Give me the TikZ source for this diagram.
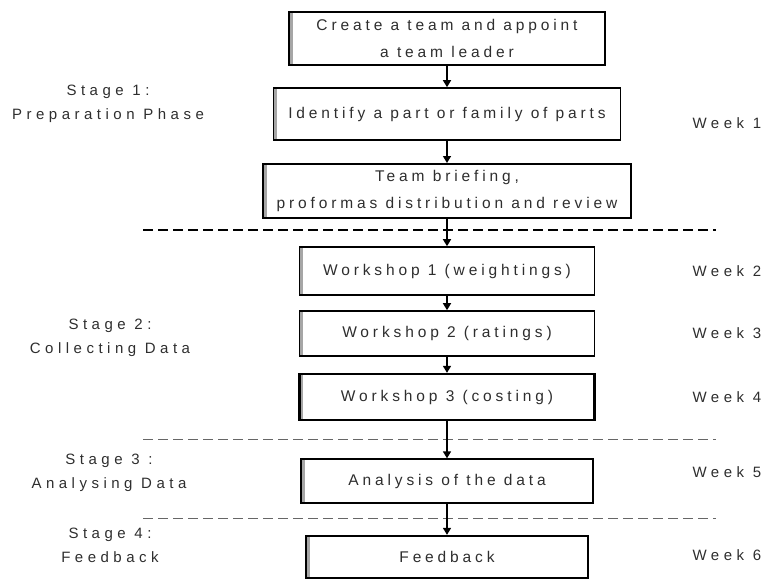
\documentclass[tikz,border=0pt]{standalone}
\usepackage{fontspec}
\setmainfont{Liberation Sans}[LetterSpace=25]
\usetikzlibrary{arrows.meta}
\definecolor{ink}{HTML}{2E2E2E}
\tikzset{
  stepbox/.style={draw=black, line width=1.6pt, fill=white, inner sep=0pt,
    align=center, text=ink, font={\fontsize{15.5}{27}\selectfont},
    path picture={\fill[gray!70] (path picture bounding box.south west)
      rectangle ([xshift=3.5pt]path picture bounding box.north west);}},
  heavybox/.style={stepbox, line width=2.3pt},
  flow/.style={line width=1.4pt, -{Triangle[width=8pt,length=7pt]}},
  divider/.style={dashed, dash pattern=on 10pt off 5pt},
  stagelabel/.style={align=center, text=ink, font={\fontsize{15}{24}\selectfont\addfontfeature{LetterSpace=30}}},
  weeklabel/.style={anchor=west, text=ink, font={\fontsize{15}{18}\selectfont\addfontfeature{LetterSpace=30}}}
}
\begin{document}
\begin{tikzpicture}[x=1pt, y=-1pt]
\useasboundingbox (0,0) rectangle (768,581);

% process steps
\node[stepbox, minimum width=316pt, minimum height=53pt] (b1) at (447,38.5)
  {Create a team and appoint\\a team leader};
\node[stepbox, minimum width=347pt, minimum height=52pt] (b2) at (447,114)
  {Identify a part or family of parts};
\node[stepbox, line width=2pt, minimum width=368pt, minimum height=54pt] (b3) at (447,191)
  {Team briefing,\\proformas distribution and review};
\node[stepbox, minimum width=295pt, minimum height=48pt] (b4) at (447,271)
  {Workshop 1 (weightings)};
\node[stepbox, minimum width=295pt, minimum height=45pt] (b5) at (447,333.5)
  {Workshop 2 (ratings)};
\node[heavybox, minimum width=295pt, minimum height=46pt] (b6) at (447,397)
  {Workshop 3 (costing)};
\node[stepbox, line width=1.3pt, minimum width=292pt, minimum height=44pt] (b7) at (447,481)
  {Analysis of the data};
\node[heavybox, minimum width=282pt, minimum height=42pt] (b8) at (447,557)
  {Feedback};

% stage separators
\coordinate (d1l) at (143,230); \coordinate (d1r) at (716,230);
\coordinate (d2l) at (143,439); \coordinate (d2r) at (716,439);
\coordinate (d3l) at (143,518); \coordinate (d3r) at (716,518);
\draw[divider, line width=1.6pt] (d1l) -- (d1r);
\draw[divider, line width=1pt, gray!80!black] (d2l) -- (d2r);
\draw[divider, line width=1pt, gray!80!black] (d3l) -- (d3r);

% flow arrows
\draw[flow] (b1.south) -- (b2.north);
\draw[flow] (b2.south) -- (b3.north);
\draw[flow] (b3.south) -- (b4.north);
\draw[flow] (b4.south) -- (b5.north);
\draw[flow] (b5.south) -- (b6.north);
\draw[flow] (b6.south) -- (b7.north);
\draw[flow] (b7.south) -- (b8.north);

% stage labels
\node[stagelabel] (s1) at (108,103.5) {Stage 1:\\Preparation Phase};
\node[stagelabel] (s2) at (110,338) {Stage 2:\\Collecting Data};
\node[stagelabel] (s3) at (109,472.5) {Stage 3 :\\Analysing Data};
\node[stagelabel] (s4) at (110,545.5) {Stage 4:\\Feedback};

% schedule
\node[weeklabel] (w1) at (689,123) {Week 1};
\node[weeklabel] (w2) at (689,271) {Week 2};
\node[weeklabel] (w3) at (689,333) {Week 3};
\node[weeklabel] (w4) at (689,397) {Week 4};
\node[weeklabel] (w5) at (689,472) {Week 5};
\node[weeklabel] (w6) at (689,555) {Week 6};
\end{tikzpicture}
\end{document}
